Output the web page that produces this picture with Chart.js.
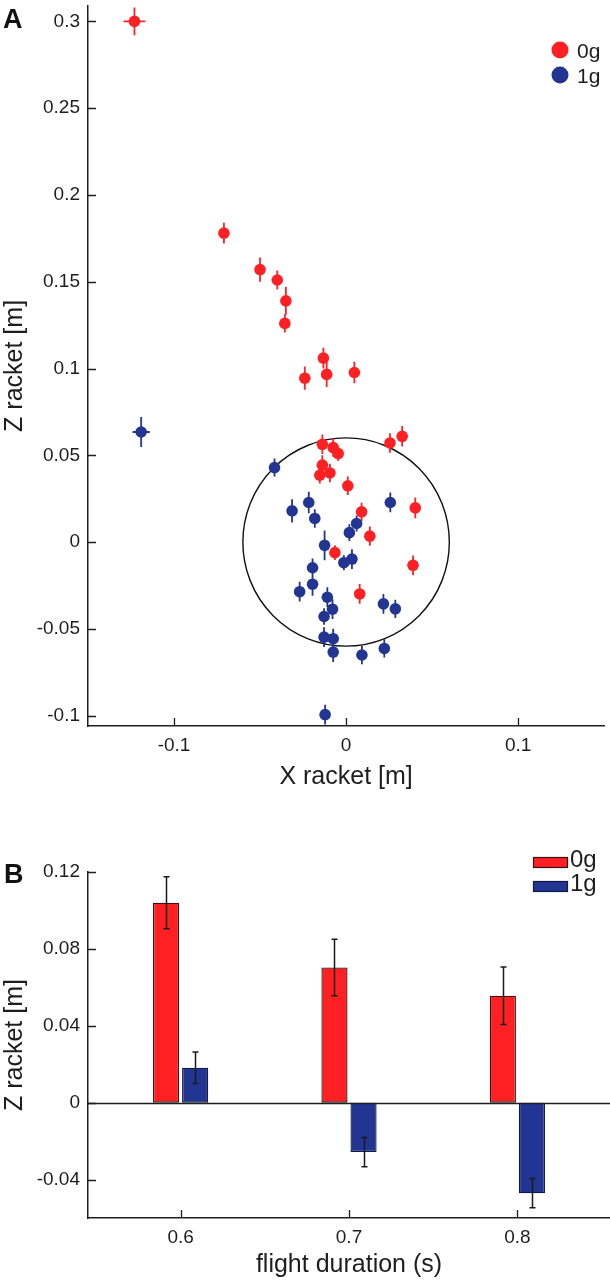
<!DOCTYPE html>
<html lang="en">
<head>
<meta charset="UTF-8">
<title>Racket position at impact</title>
<style>
  body { margin: 0; background: #fff; font-family: "Liberation Sans", Arial, sans-serif; }
  #wrap { position: relative; width: 610px; height: 1283px; }
  canvas { position: absolute; left: 0; }
  #chartA { top: 0; }
  #chartB { top: 820px; }
  .panel { position: absolute; font-weight: bold; font-size: 27px; line-height: 30px; color: #111; }
</style>
</head>
<body>
<div id="wrap">
  <canvas id="chartA" width="610" height="800"></canvas>
  <canvas id="chartB" width="610" height="463"></canvas>
  <div class="panel" style="left:3px;top:4px">A</div>
  <div class="panel" style="left:4px;top:859px">B</div>
</div>

<script src="https://cdn.jsdelivr.net/npm/chart.js"></script>
<script>
    // ---- panel A : racket position per trial ----
    const seriesNames = ['0g', '1g'];

    const redX    = [-0.123, -0.071, -0.050, -0.040, -0.035, -0.0356, -0.0132, -0.024, -0.0113, 0.0048,
                     -0.0138, -0.0075, -0.0046, 0.0255, 0.0326, -0.0138, -0.0153, -0.0094, 0.001, 0.009,
                     0.0402, 0.0138, -0.0065, 0.0389, 0.0079];
    const redZ    = [0.300, 0.178, 0.157, 0.151, 0.139, 0.126, 0.106, 0.0944, 0.0966, 0.0977,
                     0.0563, 0.0544, 0.051, 0.0571, 0.0609, 0.0443, 0.0385, 0.0398, 0.0324, 0.0174,
                     0.0197, 0.0034, -0.0061, -0.0134, -0.0299];
    const redZErr = [0.008, 0.006, 0.007, 0.0055, 0.008, 0.0053, 0.006, 0.0067, 0.0072, 0.0062,
                     0.0056, 0.0053, 0.0043, 0.0056, 0.0059, 0.0057, 0.0048, 0.0053, 0.0053, 0.0053,
                     0.006, 0.0056, 0.0043, 0.0057, 0.0057];
    const redXErr = [0.0063, 0.002, 0.002, 0.002, 0.002, 0.002, 0.002, 0.002, 0.002, 0.002,
                     0.002, 0.002, 0.002, 0.002, 0.002, 0.002, 0.002, 0.002, 0.002, 0.002,
                     0.002, 0.002, 0.002, 0.002, 0.002];

    const blueX    = [-0.1191, -0.0416, -0.0314, -0.0217, -0.0182, 0.0257, 0.0061, 0.0019, -0.0125, -0.0013,
                      0.0034, -0.0195, -0.0195, -0.027, -0.0109, -0.0079, -0.0128, 0.0217, 0.0286, -0.0128,
                      -0.0075, -0.0075, 0.0092, 0.0222, -0.0122];
    const blueZ    = [0.0634, 0.0429, 0.018, 0.0228, 0.0136, 0.0228, 0.0107, 0.0054, -0.0019, -0.0119,
                      -0.0098, -0.0148, -0.0243, -0.0286, -0.0318, -0.0387, -0.0429, -0.0356, -0.0385, -0.0548,
                      -0.0557, -0.0634, -0.0651, -0.0613, -0.0994];
    const blueZErr = [0.0086, 0.0052, 0.0067, 0.0062, 0.0053, 0.0057, 0.0046, 0.0048, 0.0086, 0.0043,
                      0.0057, 0.0053, 0.0067, 0.0057, 0.0057, 0.0057, 0.0048, 0.0057, 0.0053, 0.0057,
                      0.0057, 0.0057, 0.0053, 0.0053, 0.0057];
    const blueXErr = [0.005, 0.002, 0.002, 0.002, 0.002, 0.002, 0.002, 0.002, 0.002, 0.002,
                      0.002, 0.002, 0.002, 0.002, 0.002, 0.002, 0.002, 0.002, 0.002, 0.002,
                      0.002, 0.002, 0.002, 0.002, 0.002];

    const circleRadius = 0.06;

    const aXTicks = [-0.1, 0, 0.1];
    const aXTickLabels = ['-0.1', '0', '0.1'];
    const aYTicks = [-0.1, -0.05, 0, 0.05, 0.1, 0.15, 0.2, 0.25, 0.3];
    const aYTickLabels = ['-0.1', '-0.05', '0', '0.05', '0.1', '0.15', '0.2', '0.25', '0.3'];

    // ---- panel B : mean Z per flight duration ----
    const durations = [0.6, 0.7, 0.8];
    const durationLabels = ['0.6', '0.7', '0.8'];
    const mean0g = [0.104, 0.0703, 0.0556];
    const err0g  = [0.0135, 0.0147, 0.015];
    const mean1g = [0.0182, -0.0257, -0.0471];
    const err1g  = [0.0082, 0.0076, 0.0076];

    const bYTicks = [-0.04, 0, 0.04, 0.08, 0.12];
    const bYTickLabels = ['-0.04', '0', '0.04', '0.08', '0.12'];

    const RED = '#ff2024';
    const BLUE = '#233592';
    const INK = '#1e1e1e';
    const FONT = '"Liberation Sans", Arial, sans-serif';

    Chart.defaults.font.family = FONT;
    Chart.defaults.color = INK;

    // MATLAB-like ticks pointing into the plot
    const inwardTicks = {
        id: 'inwardTicks',
        afterDraw(chart) {
            const {ctx, chartArea: a, scales: {x, y}} = chart;
            ctx.save();
            ctx.strokeStyle = INK;
            ctx.lineWidth = 1.3;
            ctx.beginPath();
            x.ticks.forEach(t => {
                const px = Math.round(x.getPixelForValue(t.value)) + 0.5;
                ctx.moveTo(px, a.bottom);
                ctx.lineTo(px, a.bottom - 8);
            });
            y.ticks.forEach(t => {
                const py = Math.round(y.getPixelForValue(t.value)) + 0.5;
                ctx.moveTo(a.left, py);
                ctx.lineTo(a.left + 8, py);
            });
            ctx.stroke();
            ctx.restore();
        }
    };

    const errorCross = {
        id: 'errorCross',
        beforeDatasetsDraw(chart) {
            const {ctx, scales: {x, y}} = chart;
            // reference circle
            ctx.save();
            ctx.strokeStyle = '#111';
            ctx.lineWidth = 1.4;
            ctx.beginPath();
            const cx = x.getPixelForValue(0), cy = y.getPixelForValue(0);
            const rx = x.getPixelForValue(circleRadius) - cx;
            const ry = cy - y.getPixelForValue(circleRadius);
            ctx.ellipse(cx, cy, rx, ry, 0, 0, Math.PI * 2);
            ctx.stroke();
            ctx.restore();

            chart.data.datasets.forEach(ds => {
                ctx.save();
                ctx.strokeStyle = ds.backgroundColor;
                ctx.lineWidth = 1.8;
                ctx.beginPath();
                ds.data.forEach((p, i) => {
                    const px = x.getPixelForValue(p.x), py = y.getPixelForValue(p.y);
                    ctx.moveTo(px, y.getPixelForValue(p.y - ds.zErr[i]));
                    ctx.lineTo(px, y.getPixelForValue(p.y + ds.zErr[i]));
                    ctx.moveTo(x.getPixelForValue(p.x - ds.xErr[i]), py);
                    ctx.lineTo(x.getPixelForValue(p.x + ds.xErr[i]), py);
                });
                ctx.stroke();
                ctx.restore();
            });
        }
    };

    const legendA = {
        id: 'legendA',
        afterDraw(chart) {
            const ctx = chart.ctx;
            ctx.save();
            ctx.font = '21px ' + FONT;
            ctx.textBaseline = 'alphabetic';
            chart.data.datasets.forEach((ds, i) => {
                const cy = 50 + i * 25;
                ctx.fillStyle = ds.backgroundColor;
                ctx.beginPath();
                ctx.arc(560, cy, 8.5, 0, Math.PI * 2);
                ctx.fill();
                ctx.fillStyle = INK;
                ctx.fillText(ds.label, 577, cy + 8);
            });
            ctx.restore();
        }
    };

    // drop the extra room Chart.js keeps for end labels, so the plot area sits where MATLAB put it
    const noEdgePad = s => { s.paddingTop = 0; s.paddingBottom = 0; s.paddingLeft = 0; s.paddingRight = 0; };

    const ctxA = document.getElementById('chartA').getContext('2d');
    const chartA = new Chart(ctxA, {
        type: 'scatter',
        data: {
            datasets: [
                {
                    label: seriesNames[0],
                    data: redX.map((v, i) => ({x: v, y: redZ[i]})),
                    zErr: redZErr, xErr: redXErr,
                    backgroundColor: RED, borderWidth: 0, pointRadius: 5.8, pointHoverRadius: 5.8
                },
                {
                    label: seriesNames[1],
                    data: blueX.map((v, i) => ({x: v, y: blueZ[i]})),
                    zErr: blueZErr, xErr: blueXErr,
                    backgroundColor: BLUE, borderWidth: 0, pointRadius: 5.8, pointHoverRadius: 5.8
                }
            ]
        },
        options: {
            responsive: false,
            animation: false,
            devicePixelRatio: 1,
            layout: { padding: { top: 5, right: 0, left: 0, bottom: 0 } },
            plugins: { legend: { display: false }, tooltip: { enabled: false } },
            scales: {
                x: {
                    type: 'linear', min: -0.15, max: 0.15,
                    afterBuildTicks: s => { s.ticks = aXTicks.map(v => ({value: v})); },
                    afterFit: s => { s.height = 74; noEdgePad(s); },
                    grid: { display: false, drawTicks: false },
                    border: { display: true, color: INK, width: 1.5 },
                    ticks: { autoSkip: false, maxRotation: 0, padding: 8, font: { size: 19 }, color: INK,
                             callback: (v, i) => aXTickLabels[i] },
                    title: { display: true, text: 'X racket [m]', font: { size: 25 }, color: INK,
                             padding: { top: 0, bottom: 8 } }
                },
                y: {
                    type: 'linear', min: -0.106, max: 0.309,
                    afterBuildTicks: s => { s.ticks = aYTicks.map(v => ({value: v})); },
                    afterFit: s => { s.width = 88; noEdgePad(s); },
                    grid: { display: false, drawTicks: false },
                    border: { display: true, color: INK, width: 1.5 },
                    ticks: { autoSkip: false, padding: 8, font: { size: 19 }, color: INK,
                             callback: (v, i) => aYTickLabels[i] },
                    title: { display: true, text: 'Z racket [m]', font: { size: 25 }, color: INK,
                             padding: { top: 0, bottom: 0 } }
                }
            }
        },
        plugins: [errorCross, inwardTicks, legendA]
    });

    // ---- panel B ----
    const barErrors = {
        id: 'barErrors',
        afterDatasetsDraw(chart) {
            const {ctx, chartArea: a, scales: {y}} = chart;
            ctx.save();
            // zero line
            ctx.strokeStyle = INK;
            ctx.lineWidth = 1.4;
            ctx.beginPath();
            const y0 = Math.round(y.getPixelForValue(0)) + 0.5;
            ctx.moveTo(a.left, y0);
            ctx.lineTo(a.right, y0);
            ctx.stroke();

            ctx.strokeStyle = '#1a1a1a';
            ctx.lineWidth = 1.5;
            chart.data.datasets.forEach((ds, di) => {
                const meta = chart.getDatasetMeta(di);
                ds.data.forEach((p, i) => {
                    const bx = Math.round(meta.data[i].x) + 0.5;
                    const top = y.getPixelForValue(p.y + ds.err[i]);
                    const bot = y.getPixelForValue(p.y - ds.err[i]);
                    ctx.beginPath();
                    ctx.moveTo(bx, top); ctx.lineTo(bx, bot);
                    ctx.moveTo(bx - 3, top); ctx.lineTo(bx + 3, top);
                    ctx.moveTo(bx - 3, bot); ctx.lineTo(bx + 3, bot);
                    ctx.stroke();
                });
            });
            ctx.restore();
        }
    };

    const legendB = {
        id: 'legendB',
        afterDraw(chart) {
            const ctx = chart.ctx;
            ctx.save();
            ctx.font = '24px ' + FONT;
            chart.data.datasets.forEach((ds, i) => {
                const top = 37 + i * 24;
                ctx.fillStyle = ds.backgroundColor;
                ctx.fillRect(533, top, 34, 10);
                ctx.strokeStyle = ds.borderColor;
                ctx.lineWidth = 1.2;
                ctx.strokeRect(533.5, top + 0.5, 34, 10);
                ctx.fillStyle = INK;
                ctx.fillText(ds.label, 570, top + 10);
            });
            ctx.restore();
        }
    };

    const ctxB = document.getElementById('chartB').getContext('2d');
    const chartB = new Chart(ctxB, {
        type: 'bar',
        data: {
            datasets: [
                {
                    label: seriesNames[0],
                    data: durations.map((d, i) => ({x: d, y: mean0g[i]})),
                    err: err0g,
                    backgroundColor: RED, borderColor: '#3a1212', borderWidth: 1.3, borderSkipped: false,
                    categoryPercentage: 0.345, barPercentage: 0.9
                },
                {
                    label: seriesNames[1],
                    data: durations.map((d, i) => ({x: d, y: mean1g[i]})),
                    err: err1g,
                    backgroundColor: BLUE, borderColor: '#111a44', borderWidth: 1.3, borderSkipped: false,
                    categoryPercentage: 0.345, barPercentage: 0.9
                }
            ]
        },
        options: {
            responsive: false,
            animation: false,
            devicePixelRatio: 1,
            layout: { padding: { top: 52, right: 0, left: 0, bottom: 0 } },
            plugins: { legend: { display: false }, tooltip: { enabled: false } },
            scales: {
                x: {
                    type: 'linear', min: 0.545, max: 0.855, offset: false,
                    afterBuildTicks: s => { s.ticks = durations.map(v => ({value: v})); },
                    afterFit: s => { s.height = 65; noEdgePad(s); },
                    grid: { display: false, drawTicks: false },
                    border: { display: true, color: INK, width: 1.5 },
                    ticks: { autoSkip: false, maxRotation: 0, padding: 8, font: { size: 19 }, color: INK,
                             callback: (v, i) => durationLabels[i] },
                    title: { display: true, text: 'flight duration (s)', font: { size: 25 }, color: INK,
                             padding: { top: 0, bottom: 3 } }
                },
                y: {
                    type: 'linear', min: -0.06, max: 0.12,
                    afterBuildTicks: s => { s.ticks = bYTicks.map(v => ({value: v})); },
                    afterFit: s => { s.width = 88; noEdgePad(s); },
                    grid: { display: false, drawTicks: false },
                    border: { display: true, color: INK, width: 1.5 },
                    ticks: { autoSkip: false, padding: 8, font: { size: 19 }, color: INK,
                             callback: (v, i) => bYTickLabels[i] },
                    title: { display: true, text: 'Z racket [m]', font: { size: 25 }, color: INK,
                             padding: { top: 0, bottom: 0 } }
                }
            }
        },
        plugins: [barErrors, inwardTicks, legendB]
    });
</script>
</body>
</html>
